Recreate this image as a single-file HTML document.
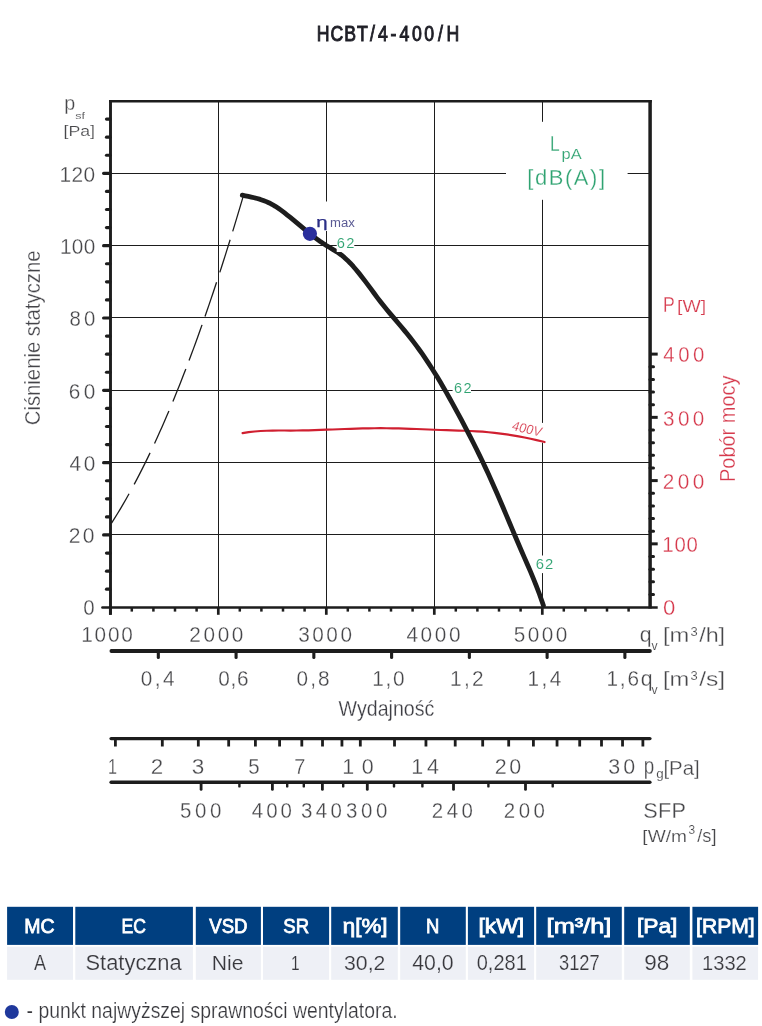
<!DOCTYPE html>
<html lang="pl">
<head>
<meta charset="utf-8">
<title>HCBT/4-400/H</title>
<style>
html,body{margin:0;padding:0;background:#fff;}
body{width:762px;height:1026px;overflow:hidden;font-family:"Liberation Sans", "DejaVu Sans", sans-serif;}
svg{display:block;}
text{white-space:pre;}
</style>
</head>
<body>
<svg width="762" height="1026" viewBox="0 0 762 1026" role="img" aria-label="HCBT/4-400/H">
<rect x="0" y="0" width="762" height="1026" fill="#ffffff"/>
<g id="grid">
<line x1="218.5" y1="100.9" x2="218.5" y2="607.2" stroke="#1d1d1d" stroke-width="1.0"/>
<line x1="326.5" y1="100.9" x2="326.5" y2="607.2" stroke="#1d1d1d" stroke-width="1.0"/>
<line x1="434.5" y1="100.9" x2="434.5" y2="607.2" stroke="#1d1d1d" stroke-width="1.0"/>
<line x1="542.5" y1="100.9" x2="542.5" y2="607.2" stroke="#1d1d1d" stroke-width="1.0"/>
<line x1="110.5" y1="534.5" x2="650.5" y2="534.5" stroke="#1d1d1d" stroke-width="1.0"/>
<line x1="110.5" y1="462.5" x2="650.5" y2="462.5" stroke="#1d1d1d" stroke-width="1.0"/>
<line x1="110.5" y1="390.5" x2="650.5" y2="390.5" stroke="#1d1d1d" stroke-width="1.0"/>
<line x1="110.5" y1="317.5" x2="650.5" y2="317.5" stroke="#1d1d1d" stroke-width="1.0"/>
<line x1="110.5" y1="245.5" x2="650.5" y2="245.5" stroke="#1d1d1d" stroke-width="1.0"/>
<line x1="110.5" y1="173.5" x2="650.5" y2="173.5" stroke="#1d1d1d" stroke-width="1.0"/>
</g>
<g id="system-curve" fill="none" stroke="#1d1d1d" stroke-width="1.3">
<path d="M243.48,195.4 L241.72,201.4 L239.94,207.4 L238.15,213.4 L236.35,219.4 L234.54,225.4 L232.71,231.4"/>
<path d="M230.12,239.8 L228.43,245.23 L226.73,250.67 L225.02,256.1 L223.29,261.53 L221.55,266.97 L219.79,272.4"/>
<path d="M216.56,282.3 L214.68,288 L212.77,293.7 L210.85,299.4 L208.92,305.1 L206.96,310.8 L204.99,316.5"/>
<path d="M202.04,324.9 L199.94,330.83 L197.81,336.77 L195.65,342.7 L193.48,348.63 L191.27,354.57 L189.05,360.5"/>
<path d="M185.85,368.9 L183.75,374.32 L181.63,379.73 L179.49,385.15 L177.32,390.57 L175.12,395.98 L172.9,401.4"/>
<path d="M168.92,410.9 L166.61,416.32 L164.27,421.73 L161.89,427.15 L159.48,432.57 L157.03,437.98 L154.54,443.4"/>
<path d="M150.07,452.9 L147.54,458.15 L144.97,463.4 L142.34,468.65 L139.67,473.9 L136.95,479.15 L134.17,484.4"/>
<path d="M129.04,493.8 L126.27,498.72 L123.44,503.63 L120.54,508.55 L117.56,513.47 L114.51,518.38 L111.37,523.3"/>
</g>
<rect x="506" y="121.8" width="121.6" height="78" fill="#fff"/>
<rect x="316" y="201.5" width="40" height="29.5" fill="#fff"/>
<rect x="452.6" y="381" width="18.4" height="13.5" fill="#fff"/>
<rect x="535" y="555.5" width="19.5" height="17.6" fill="#fff"/>
<rect x="510" y="422.9" width="36" height="19.7" fill="#fff"/>
<path id="power-curve" d="M242.6,433.06 L248.6,432.14 L254.6,431.48 L260.6,431.02 L266.6,430.73 L272.6,430.58 L278.6,430.52 L284.6,430.52 L290.6,430.53 L296.6,430.52 L302.6,430.45 L308.6,430.32 L314.6,430.15 L320.6,429.94 L326.6,429.71 L332.6,429.48 L338.6,429.24 L344.6,429.02 L350.6,428.81 L356.6,428.62 L362.6,428.46 L368.6,428.33 L374.6,428.25 L380.6,428.22 L386.6,428.24 L392.6,428.31 L398.6,428.44 L404.6,428.61 L410.6,428.8 L416.6,429.02 L422.6,429.26 L428.6,429.5 L434.6,429.75 L440.6,429.98 L446.6,430.19 L452.6,430.38 L458.6,430.55 L464.6,430.74 L470.6,430.98 L476.6,431.3 L482.6,431.72 L488.6,432.25 L494.6,432.87 L500.6,433.6 L506.6,434.43 L512.6,435.36 L518.6,436.39 L524.6,437.53 L530.6,438.76 L536.6,440.1 L542.6,441.54 L544.5,442.02" fill="none" stroke="#d01f30" stroke-width="2.2" stroke-linecap="round" stroke-linejoin="round"/>
<path id="pressure-curve" d="M242.3,195.2 L245.3,195.79 L248.3,196.39 L251.3,197.03 L254.3,197.73 L257.3,198.52 L260.3,199.42 L263.3,200.44 L266.3,201.63 L269.3,202.99 L272.3,204.55 L275.3,206.33 L278.3,208.29 L281.3,210.41 L284.3,212.66 L287.3,215.02 L290.3,217.45 L293.3,219.93 L296.3,222.43 L299.3,224.94 L302.3,227.45 L305.3,229.94 L308.3,232.39 L311.3,234.79 L314.3,237.12 L317.3,239.37 L320.3,241.53 L323.3,243.58 L326.3,245.51 L329.3,247.32 L332.3,249.08 L335.3,250.88 L338.3,252.82 L341.3,254.97 L344.3,257.42 L347.3,260.17 L350.3,263.2 L353.3,266.47 L356.3,269.95 L359.3,273.61 L362.3,277.42 L365.3,281.35 L368.3,285.37 L371.3,289.44 L374.3,293.52 L377.3,297.57 L380.3,301.52 L383.3,305.34 L386.3,309.03 L389.3,312.63 L392.3,316.17 L395.3,319.68 L398.3,323.2 L401.3,326.74 L404.3,330.35 L407.3,334.03 L410.3,337.79 L413.3,341.65 L416.3,345.63 L419.3,349.72 L422.3,353.95 L425.3,358.31 L428.3,362.82 L431.3,367.46 L434.3,372.22 L437.3,377.1 L440.3,382.1 L443.3,387.2 L446.3,392.4 L449.3,397.7 L452.3,403.08 L455.3,408.54 L458.3,414.08 L461.3,419.69 L464.3,425.35 L467.3,431.08 L470.3,436.89 L473.3,442.78 L476.3,448.77 L479.3,454.86 L482.3,461.06 L485.3,467.38 L488.3,473.83 L491.3,480.41 L494.3,487.15 L497.3,494.01 L500.3,500.98 L503.3,508.03 L506.3,515.12 L509.3,522.25 L512.3,529.37 L515.3,536.47 L518.3,543.52 L521.3,550.48 L524.3,557.36 L527.3,564.21 L530.3,571.16 L533.3,578.32 L536.3,585.81 L539.3,593.74 L542.3,602.23 L543.4,605.51" fill="none" stroke="#1d1d1d" stroke-width="4.8" stroke-linecap="round" stroke-linejoin="round"/>
<rect x="336.7" y="236" width="17.6" height="16" fill="#fff"/>
<g id="frame">
<line x1="109" y1="101.3" x2="651.8" y2="101.3" stroke="#1d1d1d" stroke-width="2.6"/>
<line x1="110.5" y1="100" x2="110.5" y2="614.8" stroke="#1d1d1d" stroke-width="2.9"/>
<line x1="650.1" y1="100" x2="650.1" y2="608.6" stroke="#1d1d1d" stroke-width="3.5"/>
<line x1="109" y1="607.4" x2="657.7" y2="607.4" stroke="#1d1d1d" stroke-width="2.5"/>
</g>
<g id="ticks" stroke="#1d1d1d">
<line x1="102.4" y1="607.4" x2="110" y2="607.4" stroke="#1d1d1d" stroke-width="2.5" stroke-linecap="round"/>
<line x1="106.5" y1="589.22" x2="110" y2="589.22" stroke="#1d1d1d" stroke-width="3.2" stroke-linecap="round"/>
<line x1="106.5" y1="571.14" x2="110" y2="571.14" stroke="#1d1d1d" stroke-width="3.2" stroke-linecap="round"/>
<line x1="106.5" y1="553.05" x2="110" y2="553.05" stroke="#1d1d1d" stroke-width="3.2" stroke-linecap="round"/>
<line x1="103.6" y1="534.97" x2="110" y2="534.97" stroke="#1d1d1d" stroke-width="3.2" stroke-linecap="round"/>
<line x1="106.5" y1="516.89" x2="110" y2="516.89" stroke="#1d1d1d" stroke-width="3.2" stroke-linecap="round"/>
<line x1="106.5" y1="498.81" x2="110" y2="498.81" stroke="#1d1d1d" stroke-width="3.2" stroke-linecap="round"/>
<line x1="106.5" y1="480.73" x2="110" y2="480.73" stroke="#1d1d1d" stroke-width="3.2" stroke-linecap="round"/>
<line x1="103.6" y1="462.64" x2="110" y2="462.64" stroke="#1d1d1d" stroke-width="3.2" stroke-linecap="round"/>
<line x1="106.5" y1="444.56" x2="110" y2="444.56" stroke="#1d1d1d" stroke-width="3.2" stroke-linecap="round"/>
<line x1="106.5" y1="426.48" x2="110" y2="426.48" stroke="#1d1d1d" stroke-width="3.2" stroke-linecap="round"/>
<line x1="106.5" y1="408.4" x2="110" y2="408.4" stroke="#1d1d1d" stroke-width="3.2" stroke-linecap="round"/>
<line x1="103.6" y1="390.32" x2="110" y2="390.32" stroke="#1d1d1d" stroke-width="3.2" stroke-linecap="round"/>
<line x1="106.5" y1="372.23" x2="110" y2="372.23" stroke="#1d1d1d" stroke-width="3.2" stroke-linecap="round"/>
<line x1="106.5" y1="354.15" x2="110" y2="354.15" stroke="#1d1d1d" stroke-width="3.2" stroke-linecap="round"/>
<line x1="106.5" y1="336.07" x2="110" y2="336.07" stroke="#1d1d1d" stroke-width="3.2" stroke-linecap="round"/>
<line x1="103.6" y1="317.99" x2="110" y2="317.99" stroke="#1d1d1d" stroke-width="3.2" stroke-linecap="round"/>
<line x1="106.5" y1="299.91" x2="110" y2="299.91" stroke="#1d1d1d" stroke-width="3.2" stroke-linecap="round"/>
<line x1="106.5" y1="281.82" x2="110" y2="281.82" stroke="#1d1d1d" stroke-width="3.2" stroke-linecap="round"/>
<line x1="106.5" y1="263.74" x2="110" y2="263.74" stroke="#1d1d1d" stroke-width="3.2" stroke-linecap="round"/>
<line x1="103.6" y1="245.66" x2="110" y2="245.66" stroke="#1d1d1d" stroke-width="3.2" stroke-linecap="round"/>
<line x1="106.5" y1="227.58" x2="110" y2="227.58" stroke="#1d1d1d" stroke-width="3.2" stroke-linecap="round"/>
<line x1="106.5" y1="209.5" x2="110" y2="209.5" stroke="#1d1d1d" stroke-width="3.2" stroke-linecap="round"/>
<line x1="106.5" y1="191.41" x2="110" y2="191.41" stroke="#1d1d1d" stroke-width="3.2" stroke-linecap="round"/>
<line x1="103.6" y1="173.33" x2="110" y2="173.33" stroke="#1d1d1d" stroke-width="3.2" stroke-linecap="round"/>
<line x1="106.5" y1="155.25" x2="110" y2="155.25" stroke="#1d1d1d" stroke-width="3.2" stroke-linecap="round"/>
<line x1="106.5" y1="137.17" x2="110" y2="137.17" stroke="#1d1d1d" stroke-width="3.2" stroke-linecap="round"/>
<line x1="106.5" y1="119.09" x2="110" y2="119.09" stroke="#1d1d1d" stroke-width="3.2" stroke-linecap="round"/>
<line x1="650" y1="594.45" x2="653.5" y2="594.45" stroke="#1d1d1d" stroke-width="3.0" stroke-linecap="round"/>
<line x1="650" y1="581.8" x2="653.5" y2="581.8" stroke="#1d1d1d" stroke-width="3.0" stroke-linecap="round"/>
<line x1="650" y1="569.15" x2="653.5" y2="569.15" stroke="#1d1d1d" stroke-width="3.0" stroke-linecap="round"/>
<line x1="650" y1="556.5" x2="653.5" y2="556.5" stroke="#1d1d1d" stroke-width="3.0" stroke-linecap="round"/>
<line x1="650" y1="543.85" x2="657.7" y2="543.85" stroke="#1d1d1d" stroke-width="3.0"/>
<line x1="650" y1="531.2" x2="653.5" y2="531.2" stroke="#1d1d1d" stroke-width="3.0" stroke-linecap="round"/>
<line x1="650" y1="518.55" x2="653.5" y2="518.55" stroke="#1d1d1d" stroke-width="3.0" stroke-linecap="round"/>
<line x1="650" y1="505.9" x2="653.5" y2="505.9" stroke="#1d1d1d" stroke-width="3.0" stroke-linecap="round"/>
<line x1="650" y1="493.25" x2="653.5" y2="493.25" stroke="#1d1d1d" stroke-width="3.0" stroke-linecap="round"/>
<line x1="650" y1="480.6" x2="657.7" y2="480.6" stroke="#1d1d1d" stroke-width="3.0"/>
<line x1="650" y1="467.95" x2="653.5" y2="467.95" stroke="#1d1d1d" stroke-width="3.0" stroke-linecap="round"/>
<line x1="650" y1="455.3" x2="653.5" y2="455.3" stroke="#1d1d1d" stroke-width="3.0" stroke-linecap="round"/>
<line x1="650" y1="442.65" x2="653.5" y2="442.65" stroke="#1d1d1d" stroke-width="3.0" stroke-linecap="round"/>
<line x1="650" y1="430" x2="653.5" y2="430" stroke="#1d1d1d" stroke-width="3.0" stroke-linecap="round"/>
<line x1="650" y1="417.35" x2="657.7" y2="417.35" stroke="#1d1d1d" stroke-width="3.0"/>
<line x1="650" y1="404.7" x2="653.5" y2="404.7" stroke="#1d1d1d" stroke-width="3.0" stroke-linecap="round"/>
<line x1="650" y1="392.05" x2="653.5" y2="392.05" stroke="#1d1d1d" stroke-width="3.0" stroke-linecap="round"/>
<line x1="650" y1="379.4" x2="653.5" y2="379.4" stroke="#1d1d1d" stroke-width="3.0" stroke-linecap="round"/>
<line x1="650" y1="366.75" x2="653.5" y2="366.75" stroke="#1d1d1d" stroke-width="3.0" stroke-linecap="round"/>
<line x1="650" y1="354.1" x2="657.7" y2="354.1" stroke="#1d1d1d" stroke-width="3.0"/>
<line x1="110.3" y1="607" x2="110.3" y2="614.8" stroke="#1d1d1d" stroke-width="2.7"/>
<line x1="131.8" y1="607" x2="131.8" y2="611.6" stroke="#1d1d1d" stroke-width="2.5"/>
<line x1="153.4" y1="607" x2="153.4" y2="611.6" stroke="#1d1d1d" stroke-width="2.5"/>
<line x1="175" y1="607" x2="175" y2="611.6" stroke="#1d1d1d" stroke-width="2.5"/>
<line x1="196.6" y1="607" x2="196.6" y2="611.6" stroke="#1d1d1d" stroke-width="2.5"/>
<line x1="218.3" y1="607" x2="218.3" y2="614.8" stroke="#1d1d1d" stroke-width="2.7"/>
<line x1="239.8" y1="607" x2="239.8" y2="611.6" stroke="#1d1d1d" stroke-width="2.5"/>
<line x1="261.4" y1="607" x2="261.4" y2="611.6" stroke="#1d1d1d" stroke-width="2.5"/>
<line x1="283" y1="607" x2="283" y2="611.6" stroke="#1d1d1d" stroke-width="2.5"/>
<line x1="304.6" y1="607" x2="304.6" y2="611.6" stroke="#1d1d1d" stroke-width="2.5"/>
<line x1="326.3" y1="607" x2="326.3" y2="614.8" stroke="#1d1d1d" stroke-width="2.7"/>
<line x1="347.8" y1="607" x2="347.8" y2="611.6" stroke="#1d1d1d" stroke-width="2.5"/>
<line x1="369.4" y1="607" x2="369.4" y2="611.6" stroke="#1d1d1d" stroke-width="2.5"/>
<line x1="391" y1="607" x2="391" y2="611.6" stroke="#1d1d1d" stroke-width="2.5"/>
<line x1="412.6" y1="607" x2="412.6" y2="611.6" stroke="#1d1d1d" stroke-width="2.5"/>
<line x1="434.3" y1="607" x2="434.3" y2="614.8" stroke="#1d1d1d" stroke-width="2.7"/>
<line x1="455.8" y1="607" x2="455.8" y2="611.6" stroke="#1d1d1d" stroke-width="2.5"/>
<line x1="477.4" y1="607" x2="477.4" y2="611.6" stroke="#1d1d1d" stroke-width="2.5"/>
<line x1="499" y1="607" x2="499" y2="611.6" stroke="#1d1d1d" stroke-width="2.5"/>
<line x1="520.6" y1="607" x2="520.6" y2="611.6" stroke="#1d1d1d" stroke-width="2.5"/>
<line x1="542.3" y1="607" x2="542.3" y2="614.8" stroke="#1d1d1d" stroke-width="2.7"/>
<line x1="563.8" y1="607" x2="563.8" y2="611.6" stroke="#1d1d1d" stroke-width="2.5"/>
<line x1="585.4" y1="607" x2="585.4" y2="611.6" stroke="#1d1d1d" stroke-width="2.5"/>
<line x1="607" y1="607" x2="607" y2="611.6" stroke="#1d1d1d" stroke-width="2.5"/>
<line x1="628.6" y1="607" x2="628.6" y2="611.6" stroke="#1d1d1d" stroke-width="2.5"/>
</g>
<g id="axis-m3s">
<line x1="111.4" y1="651" x2="649.9" y2="651" stroke="#1d1d1d" stroke-width="3.8" stroke-linecap="round"/>
<line x1="158.32" y1="651" x2="158.32" y2="657.4" stroke="#1d1d1d" stroke-width="3.1" stroke-linecap="round"/>
<line x1="236.08" y1="651" x2="236.08" y2="657.4" stroke="#1d1d1d" stroke-width="3.1" stroke-linecap="round"/>
<line x1="313.84" y1="651" x2="313.84" y2="657.4" stroke="#1d1d1d" stroke-width="3.1" stroke-linecap="round"/>
<line x1="391.6" y1="651" x2="391.6" y2="657.4" stroke="#1d1d1d" stroke-width="3.1" stroke-linecap="round"/>
<line x1="469.36" y1="651" x2="469.36" y2="657.4" stroke="#1d1d1d" stroke-width="3.1" stroke-linecap="round"/>
<line x1="547.12" y1="651" x2="547.12" y2="657.4" stroke="#1d1d1d" stroke-width="3.1" stroke-linecap="round"/>
<line x1="624.88" y1="651" x2="624.88" y2="657.4" stroke="#1d1d1d" stroke-width="3.1" stroke-linecap="round"/>
</g>
<g id="axis-pg">
<line x1="111.1" y1="738.6" x2="649.9" y2="738.6" stroke="#1d1d1d" stroke-width="3.4" stroke-linecap="round"/>
<line x1="115.4" y1="738.6" x2="115.4" y2="746.5" stroke="#1d1d1d" stroke-width="2.8"/>
<line x1="162.32" y1="738.6" x2="162.32" y2="746.5" stroke="#1d1d1d" stroke-width="2.8"/>
<line x1="198.32" y1="738.6" x2="198.32" y2="746.5" stroke="#1d1d1d" stroke-width="2.8"/>
<line x1="228.67" y1="738.6" x2="228.67" y2="746.5" stroke="#1d1d1d" stroke-width="2.8"/>
<line x1="255.41" y1="738.6" x2="255.41" y2="746.5" stroke="#1d1d1d" stroke-width="2.8"/>
<line x1="279.58" y1="738.6" x2="279.58" y2="746.5" stroke="#1d1d1d" stroke-width="2.8"/>
<line x1="301.81" y1="738.6" x2="301.81" y2="746.5" stroke="#1d1d1d" stroke-width="2.8"/>
<line x1="322.51" y1="738.6" x2="322.51" y2="746.5" stroke="#1d1d1d" stroke-width="2.8"/>
<line x1="341.94" y1="738.6" x2="341.94" y2="746.5" stroke="#1d1d1d" stroke-width="2.8"/>
<line x1="360.32" y1="738.6" x2="360.32" y2="746.5" stroke="#1d1d1d" stroke-width="2.8"/>
<line x1="394.51" y1="738.6" x2="394.51" y2="746.5" stroke="#1d1d1d" stroke-width="2.8"/>
<line x1="425.95" y1="738.6" x2="425.95" y2="746.5" stroke="#1d1d1d" stroke-width="2.8"/>
<line x1="455.21" y1="738.6" x2="455.21" y2="746.5" stroke="#1d1d1d" stroke-width="2.8"/>
<line x1="482.69" y1="738.6" x2="482.69" y2="746.5" stroke="#1d1d1d" stroke-width="2.8"/>
<line x1="508.69" y1="738.6" x2="508.69" y2="746.5" stroke="#1d1d1d" stroke-width="2.8"/>
<line x1="533.41" y1="738.6" x2="533.41" y2="746.5" stroke="#1d1d1d" stroke-width="2.8"/>
<line x1="557.04" y1="738.6" x2="557.04" y2="746.5" stroke="#1d1d1d" stroke-width="2.8"/>
<line x1="579.7" y1="738.6" x2="579.7" y2="746.5" stroke="#1d1d1d" stroke-width="2.8"/>
<line x1="601.5" y1="738.6" x2="601.5" y2="746.5" stroke="#1d1d1d" stroke-width="2.8"/>
<line x1="622.54" y1="738.6" x2="622.54" y2="746.5" stroke="#1d1d1d" stroke-width="2.8"/>
<line x1="642.88" y1="738.6" x2="642.88" y2="746.5" stroke="#1d1d1d" stroke-width="2.8"/>
</g>
<g id="axis-sfp">
<line x1="111.1" y1="782.3" x2="649.9" y2="782.3" stroke="#1d1d1d" stroke-width="3.4" stroke-linecap="round"/>
<line x1="201.1" y1="782.3" x2="201.1" y2="789.4" stroke="#1d1d1d" stroke-width="2.8" stroke-linecap="round"/>
<line x1="239.4" y1="782.3" x2="239.4" y2="786.4" stroke="#1d1d1d" stroke-width="2.4" stroke-linecap="round"/>
<line x1="272.4" y1="782.3" x2="272.4" y2="789.4" stroke="#1d1d1d" stroke-width="2.8" stroke-linecap="round"/>
<line x1="287.2" y1="782.3" x2="287.2" y2="786.4" stroke="#1d1d1d" stroke-width="2.4" stroke-linecap="round"/>
<line x1="303.8" y1="782.3" x2="303.8" y2="786.4" stroke="#1d1d1d" stroke-width="2.4" stroke-linecap="round"/>
<line x1="322.4" y1="782.3" x2="322.4" y2="789.4" stroke="#1d1d1d" stroke-width="2.8" stroke-linecap="round"/>
<line x1="343.2" y1="782.3" x2="343.2" y2="786.4" stroke="#1d1d1d" stroke-width="2.4" stroke-linecap="round"/>
<line x1="367.3" y1="782.3" x2="367.3" y2="789.4" stroke="#1d1d1d" stroke-width="2.8" stroke-linecap="round"/>
<line x1="394" y1="782.3" x2="394" y2="786.4" stroke="#1d1d1d" stroke-width="2.4" stroke-linecap="round"/>
<line x1="422.4" y1="782.3" x2="422.4" y2="786.4" stroke="#1d1d1d" stroke-width="2.4" stroke-linecap="round"/>
<line x1="453.5" y1="782.3" x2="453.5" y2="789.4" stroke="#1d1d1d" stroke-width="2.8" stroke-linecap="round"/>
<line x1="488.4" y1="782.3" x2="488.4" y2="786.4" stroke="#1d1d1d" stroke-width="2.4" stroke-linecap="round"/>
<line x1="525.5" y1="782.3" x2="525.5" y2="789.4" stroke="#1d1d1d" stroke-width="2.8" stroke-linecap="round"/>
<line x1="552.7" y1="782.3" x2="552.7" y2="786.4" stroke="#1d1d1d" stroke-width="2.4" stroke-linecap="round"/>
</g>
<circle cx="309.9" cy="233.8" r="7.1" fill="#2a2f9c"/>
<g id="labels" font-family='"Liberation Sans", "DejaVu Sans", sans-serif'>
<text transform="translate(317.9,40.9) scale(0.8316,1)" x="-1.37 15.1 31.56 46.97 62.65 72.38 87.25 98 113.26 128 144.48 154.61" y="0" font-size="21.26" fill="#1e1e26" stroke="#1e1e26" stroke-width="0.95">HCBT/4-400/H</text>
<text transform="translate(65.46,110.27) scale(0.9471,1)" x="-1.34" y="0" font-size="20.83" fill="#47474a" stroke="#ffffff" stroke-width="0.27">p</text>
<text transform="translate(75.66,118.62) scale(1.2794,1)" x="-0.27 4.61" y="0" font-size="9.77" fill="#47474a" stroke="#ffffff" stroke-width="0.09">sf</text>
<text transform="translate(64.82,135.94) scale(1.1462,1)" x="-1.1 3.19 13.49 22.08" y="0" font-size="15.45" fill="#47474a" stroke="#ffffff" stroke-width="0.17">[Pa]</text>
<text transform="translate(61.06,182.07) scale(0.9600,1)" x="-1.66 10.87 23.4" y="0" font-size="21.78" fill="#47474a" stroke="#ffffff" stroke-width="0.28">120</text>
<text transform="translate(61.56,253.97) scale(0.9600,1)" x="-1.65 10.73 23.11" y="0" font-size="21.64" fill="#47474a" stroke="#ffffff" stroke-width="0.28">100</text>
<text transform="translate(70.36,325.77) scale(0.9600,1)" x="-0.92 14.17" y="0" font-size="21.21" fill="#47474a" stroke="#ffffff" stroke-width="0.28">80</text>
<text transform="translate(69.86,398.97) scale(0.9600,1)" x="-1.1 14.47" y="0" font-size="21.64" fill="#47474a" stroke="#ffffff" stroke-width="0.28">60</text>
<text transform="translate(69.86,471.07) scale(0.9600,1)" x="-0.5 14.47" y="0" font-size="21.64" fill="#47474a" stroke="#ffffff" stroke-width="0.28">40</text>
<text transform="translate(69.86,543.17) scale(0.9600,1)" x="-1.1 13.33" y="0" font-size="21.93" fill="#47474a" stroke="#ffffff" stroke-width="0.28">20</text>
<text transform="translate(83.96,615.07) scale(0.9454,1)" x="-0.85" y="0" font-size="21.64" fill="#47474a" stroke="#ffffff" stroke-width="0.28">0</text>
<text transform="translate(40.2,424.2) rotate(-90) scale(0.8991,1)" x="-1.15 15.14 20.16 31.43 43.98 48.99 61.54 74.08 79.09 91.64 97.9 109.18 115.45 127.99 134.26 145.54 156.82 168.1 180.64" y="0" font-size="22.56" fill="#444449" stroke="#ffffff" stroke-width="0.3">Ciśnienie statyczne</text>
<text transform="translate(664.36,311.67) scale(0.8299,1)" x="-1.74" y="0" font-size="21.24" fill="#d63a4d" stroke="#ffffff" stroke-width="0.28">P</text>
<text transform="translate(678.4,311.65) scale(1.1947,1)" x="-1.16 3.38 18.8" y="0" font-size="16.34" fill="#d63a4d" stroke="#ffffff" stroke-width="0.19">[W]</text>
<text transform="translate(663.76,361.97) scale(0.9600,1)" x="-0.49 14.99 30.47" y="0" font-size="21.21" fill="#d63a4d" stroke="#ffffff" stroke-width="0.28">400</text>
<text transform="translate(663.76,425.87) scale(0.9600,1)" x="-0.82 14.75 30.32" y="0" font-size="21.50" fill="#d63a4d" stroke="#ffffff" stroke-width="0.28">300</text>
<text transform="translate(663.76,488.97) scale(0.9600,1)" x="-1.09 14.58 30.25" y="0" font-size="21.64" fill="#d63a4d" stroke="#ffffff" stroke-width="0.28">200</text>
<text transform="translate(663.76,551.67) scale(0.9600,1)" x="-1.62 11.09 23.8" y="0" font-size="21.21" fill="#d63a4d" stroke="#ffffff" stroke-width="0.28">100</text>
<text transform="translate(663.76,614.67) scale(1.0435,1)" x="-0.83" y="0" font-size="21.21" fill="#d63a4d" stroke="#ffffff" stroke-width="0.28">0</text>
<text transform="translate(735.1,480.4) rotate(-90) scale(0.9136,1)" x="-1.79 12.79 24.95 37.1 49.26 56.54 62.62 80.83 92.98 103.91" y="0" font-size="21.86" fill="#d63a4d" stroke="#ffffff" stroke-width="0.28">Pobór mocy</text>
<text transform="translate(551.46,151.37) scale(0.7984,1)" x="-1.79" y="0" font-size="21.82" fill="#2fa371" stroke="#ffffff" stroke-width="0.28">L</text>
<text transform="translate(562.62,159.04) scale(1.1202,1)" x="-0.95 7.23" y="0" font-size="14.71" fill="#2fa371" stroke="#ffffff" stroke-width="0.16">pA</text>
<text transform="translate(528.86,185.17) scale(1.0000,1)" x="-1.57 6.1 19.87 36.08 44.96 61.17 70.04" y="0" font-size="21.96" fill="#2fa371" stroke="#ffffff" stroke-width="0.28">[dB(A)]</text>
<text transform="translate(317.32,226.66) scale(1.4349,1)" x="-0.73" y="0" font-size="14.19" fill="#2b2e86" stroke="#2b2e86" stroke-width="0.25">η</text>
<text transform="translate(330.88,226.71) scale(0.9982,1)" x="-0.87 10.07 17.37" y="0" font-size="13.13" fill="#5a5a94">max</text>
<text transform="translate(337.44,247.93) scale(0.9600,1)" x="-0.78 9.15" y="0" font-size="15.31" fill="#2fa371" stroke="#ffffff" stroke-width="0.12">62</text>
<text transform="translate(454.64,392.93) scale(0.9600,1)" x="-0.77 9.22" y="0" font-size="15.17" fill="#2fa371" stroke="#ffffff" stroke-width="0.12">62</text>
<text transform="translate(536.54,568.93) scale(0.9600,1)" x="-0.78 8.77" y="0" font-size="15.45" fill="#2fa371" stroke="#ffffff" stroke-width="0.12">62</text>
<text transform="translate(511.4,429.9) rotate(13) skewX(-6) scale(0.9499,1)" x="-0.31 7.18 14.68 22.17" y="0" font-size="13.47" fill="#d63a4d" stroke="#ffffff" stroke-width="0.14">400V</text>
<text transform="translate(82.86,641.77) scale(0.9600,1)" x="-1.65 12.25 26.14 40.04" y="0" font-size="21.64" fill="#47474a" stroke="#ffffff" stroke-width="0.28">1000</text>
<text transform="translate(190.36,641.77) scale(0.9600,1)" x="-1.09 13.66 28.41 43.16" y="0" font-size="21.64" fill="#47474a" stroke="#ffffff" stroke-width="0.28">2000</text>
<text transform="translate(298.96,641.77) scale(0.9600,1)" x="-0.82 13.84 28.5 43.16" y="0" font-size="21.64" fill="#47474a" stroke="#ffffff" stroke-width="0.28">3000</text>
<text transform="translate(406.86,641.77) scale(0.9600,1)" x="-0.5 14.3 29.1 43.89" y="0" font-size="21.64" fill="#47474a" stroke="#ffffff" stroke-width="0.28">4000</text>
<text transform="translate(514.46,641.77) scale(0.9600,1)" x="-0.87 13.78 28.42 43.06" y="0" font-size="21.64" fill="#47474a" stroke="#ffffff" stroke-width="0.28">5000</text>
<text transform="translate(640.76,641.77) scale(0.9601,1)" x="-0.93" y="0" font-size="22.16" fill="#47474a" stroke="#ffffff" stroke-width="0.28">q</text>
<text transform="translate(651.63,649.93) scale(0.9645,1)" x="-0.04" y="0" font-size="12.68" fill="#47474a" stroke="#ffffff" stroke-width="0.13">v</text>
<text transform="translate(664.57,641.77) scale(1.1482,1)" x="-1.47 4.26" y="0" font-size="20.64" fill="#47474a" stroke="#ffffff" stroke-width="0.27">[m</text>
<text transform="translate(690.93,636.03) scale(1.0262,1)" x="-0.48" y="0" font-size="12.60" fill="#47474a" stroke="#ffffff" stroke-width="0.13">3</text>
<text transform="translate(699.16,641.77) scale(1.1099,1)" x="0 5.84 17.53" y="0" font-size="21.01" fill="#47474a" stroke="#ffffff" stroke-width="0.27">/h]</text>
<text transform="translate(141.46,685.97) scale(0.9600,1)" x="-0.85 13.86 22.54" y="0" font-size="21.64" fill="#47474a" stroke="#ffffff" stroke-width="0.28">0,4</text>
<text transform="translate(219.16,685.97) scale(0.9600,1)" x="-0.85 11.93 18.69" y="0" font-size="21.64" fill="#47474a" stroke="#ffffff" stroke-width="0.28">0,6</text>
<text transform="translate(297.26,685.97) scale(0.9600,1)" x="-0.85 13.44 21.7" y="0" font-size="21.64" fill="#47474a" stroke="#ffffff" stroke-width="0.28">0,8</text>
<text transform="translate(373.76,685.97) scale(0.9600,1)" x="-1.65 12.26 20.14" y="0" font-size="21.64" fill="#47474a" stroke="#ffffff" stroke-width="0.28">1,0</text>
<text transform="translate(451.66,685.97) scale(0.9600,1)" x="-1.65 12.85 21.32" y="0" font-size="21.64" fill="#47474a" stroke="#ffffff" stroke-width="0.28">1,2</text>
<text transform="translate(529.16,685.97) scale(0.9600,1)" x="-1.65 12.88 21.39" y="0" font-size="21.64" fill="#47474a" stroke="#ffffff" stroke-width="0.28">1,4</text>
<text transform="translate(608.16,685.97) scale(0.9600,1)" x="-1.65 12.21 20.04" y="0" font-size="21.64" fill="#47474a" stroke="#ffffff" stroke-width="0.28">1,6</text>
<text transform="translate(641.56,685.97) scale(0.9601,1)" x="-0.93" y="0" font-size="22.16" fill="#47474a" stroke="#ffffff" stroke-width="0.28">q</text>
<text transform="translate(651.63,694.13) scale(0.9645,1)" x="-0.04" y="0" font-size="12.68" fill="#47474a" stroke="#ffffff" stroke-width="0.13">v</text>
<text transform="translate(664.57,685.97) scale(1.1482,1)" x="-1.47 4.26" y="0" font-size="20.64" fill="#47474a" stroke="#ffffff" stroke-width="0.27">[m</text>
<text transform="translate(690.93,680.23) scale(1.0262,1)" x="-0.48" y="0" font-size="12.60" fill="#47474a" stroke="#ffffff" stroke-width="0.13">3</text>
<text transform="translate(699.16,685.97) scale(1.1732,1)" x="0 5.84 16.35" y="0" font-size="21.01" fill="#47474a" stroke="#ffffff" stroke-width="0.27">/s]</text>
<text transform="translate(338.57,716.06) scale(0.9048,1)" x="-0.1 20.33 31.15 43.18 55.22 60.03 72.06 84.09 94.91" y="0" font-size="21.64" fill="#3e3e44" stroke="#ffffff" stroke-width="0.25">Wydajność</text>
<text transform="translate(109.26,774.27) scale(0.7241,1)" x="-1.7" y="0" font-size="22.36" fill="#47474a" stroke="#ffffff" stroke-width="0.28">1</text>
<text transform="translate(151.86,774.27) scale(0.9995,1)" x="-1.12" y="0" font-size="22.36" fill="#47474a" stroke="#ffffff" stroke-width="0.28">2</text>
<text transform="translate(192.66,774.27) scale(1.0076,1)" x="-0.85" y="0" font-size="22.36" fill="#47474a" stroke="#ffffff" stroke-width="0.28">3</text>
<text transform="translate(249.16,774.27) scale(0.9132,1)" x="-0.9" y="0" font-size="22.36" fill="#47474a" stroke="#ffffff" stroke-width="0.28">5</text>
<text transform="translate(295.36,774.27) scale(0.8934,1)" x="-1.15" y="0" font-size="22.36" fill="#47474a" stroke="#ffffff" stroke-width="0.28">7</text>
<text transform="translate(343.76,774.27) scale(0.9600,1)" x="-1.7 18.84" y="0" font-size="22.36" fill="#47474a" stroke="#ffffff" stroke-width="0.28">10</text>
<text transform="translate(412.76,774.27) scale(0.9600,1)" x="-1.7 14.87" y="0" font-size="22.36" fill="#47474a" stroke="#ffffff" stroke-width="0.28">14</text>
<text transform="translate(495.86,774.27) scale(0.9600,1)" x="-1.12 14.04" y="0" font-size="22.36" fill="#47474a" stroke="#ffffff" stroke-width="0.28">20</text>
<text transform="translate(608.96,774.27) scale(0.9600,1)" x="-0.85 14.98" y="0" font-size="22.36" fill="#47474a" stroke="#ffffff" stroke-width="0.28">30</text>
<text transform="translate(644.86,774.27) scale(0.7964,1)" x="-1.53" y="0" font-size="23.68" fill="#47474a" stroke="#ffffff" stroke-width="0.28">p</text>
<text transform="translate(656.74,777.63) scale(1.1068,1)" x="-0.51" y="0" font-size="12.09" fill="#47474a" stroke="#ffffff" stroke-width="0.12">g</text>
<text transform="translate(664.88,774.66) scale(1.0320,1)" x="-1.41 4.08 17.25 28.24" y="0" font-size="19.75" fill="#47474a" stroke="#ffffff" stroke-width="0.25">[Pa]</text>
<text transform="translate(180.86,817.97) scale(0.9600,1)" x="-0.85 14.77 30.4" y="0" font-size="21.35" fill="#47474a" stroke="#ffffff" stroke-width="0.28">500</text>
<text transform="translate(252.26,817.97) scale(0.9600,1)" x="-0.49 14.48 29.46" y="0" font-size="21.35" fill="#47474a" stroke="#ffffff" stroke-width="0.28">400</text>
<text transform="translate(301.76,817.97) scale(0.9600,1)" x="-0.81 14.53 29.87" y="0" font-size="21.35" fill="#47474a" stroke="#ffffff" stroke-width="0.28">340</text>
<text transform="translate(346.66,817.97) scale(0.9600,1)" x="-0.81 14.9 30.6" y="0" font-size="21.35" fill="#47474a" stroke="#ffffff" stroke-width="0.28">300</text>
<text transform="translate(432.86,817.97) scale(0.9600,1)" x="-1.07 14.35 29.77" y="0" font-size="21.35" fill="#47474a" stroke="#ffffff" stroke-width="0.28">240</text>
<text transform="translate(504.86,817.97) scale(0.9600,1)" x="-1.07 14.35 29.77" y="0" font-size="21.35" fill="#47474a" stroke="#ffffff" stroke-width="0.28">200</text>
<text transform="translate(644.16,817.97) scale(1.0000,1)" x="-0.98 13.75 27.27" y="0" font-size="21.67" fill="#47474a" stroke="#ffffff" stroke-width="0.28">SFP</text>
<text transform="translate(643.69,841.55) scale(1.1010,1)" x="-1.24 3.59 19.99 24.82" y="0" font-size="17.38" fill="#47474a" stroke="#ffffff" stroke-width="0.21">[W/m</text>
<text transform="translate(689.03,834.03) scale(0.9114,1)" x="-0.5" y="0" font-size="13.03" fill="#47474a" stroke="#ffffff" stroke-width="0.13">3</text>
<text transform="translate(697.29,841.55) scale(1.0097,1)" x="0 5.01 14.02" y="0" font-size="18.03" fill="#47474a" stroke="#ffffff" stroke-width="0.22">/s]</text>
</g>
<g id="table" font-family='"Liberation Sans", "DejaVu Sans", sans-serif'>
<rect x="7.1" y="906.8" width="65.9" height="38.1" fill="#003f80"/>
<rect x="7.1" y="946.7" width="65.9" height="33.1" fill="#eef0f6"/>
<rect x="75.3" y="906.8" width="117.6" height="38.1" fill="#003f80"/>
<rect x="75.3" y="946.7" width="117.6" height="33.1" fill="#eef0f6"/>
<rect x="195.8" y="906.8" width="65.1" height="38.1" fill="#003f80"/>
<rect x="195.8" y="946.7" width="65.1" height="33.1" fill="#eef0f6"/>
<rect x="263" y="906.8" width="66.1" height="38.1" fill="#003f80"/>
<rect x="263" y="946.7" width="66.1" height="33.1" fill="#eef0f6"/>
<rect x="331.2" y="906.8" width="66.6" height="38.1" fill="#003f80"/>
<rect x="331.2" y="946.7" width="66.6" height="33.1" fill="#eef0f6"/>
<rect x="400.2" y="906.8" width="65.6" height="38.1" fill="#003f80"/>
<rect x="400.2" y="946.7" width="65.6" height="33.1" fill="#eef0f6"/>
<rect x="467.9" y="906.8" width="66.2" height="38.1" fill="#003f80"/>
<rect x="467.9" y="946.7" width="66.2" height="33.1" fill="#eef0f6"/>
<rect x="536.2" y="906.8" width="85.6" height="38.1" fill="#003f80"/>
<rect x="536.2" y="946.7" width="85.6" height="33.1" fill="#eef0f6"/>
<rect x="624.2" y="906.8" width="65.6" height="38.1" fill="#003f80"/>
<rect x="624.2" y="946.7" width="65.6" height="33.1" fill="#eef0f6"/>
<rect x="692.4" y="906.8" width="65.7" height="38.1" fill="#003f80"/>
<rect x="692.4" y="946.7" width="65.7" height="33.1" fill="#eef0f6"/>
<text transform="translate(25.9,932.98) scale(0.9602,1)" x="-1.67 15.26" y="0" font-size="20.32" fill="#ffffff" stroke="#ffffff" stroke-width="0.8">MC</text>
<text transform="translate(34,970.35) scale(0.8557,1)" x="-0.04" y="0" font-size="21.15" fill="#38383d" stroke="#eef0f6" stroke-width="0.2">A</text>
<text transform="translate(123,932.98) scale(0.8648,1)" x="-1.67 11.89" y="0" font-size="20.32" fill="#ffffff" stroke="#ffffff" stroke-width="0.8">EC</text>
<text transform="translate(86.5,970.35) scale(1.0358,1)" x="-0.96 13.15 19.02 30.78 36.66 47.23 57.81 68.38 80.14" y="0" font-size="21.15" fill="#38383d" stroke="#eef0f6" stroke-width="0.2">Statyczna</text>
<text transform="translate(209.3,932.98) scale(0.9160,1)" x="-0.09 13.46 27.02" y="0" font-size="20.32" fill="#ffffff" stroke="#ffffff" stroke-width="0.8">VSD</text>
<text transform="translate(213.5,970.35) scale(1.0014,1)" x="-1.73 13.54 18.24" y="0" font-size="21.15" fill="#38383d" stroke="#eef0f6" stroke-width="0.2">Nie</text>
<text transform="translate(284.1,932.98) scale(0.9142,1)" x="-0.92 12.63" y="0" font-size="20.32" fill="#ffffff" stroke="#ffffff" stroke-width="0.8">SR</text>
<text transform="translate(292.3,970.35) scale(0.7348,1)" x="-1.61" y="0" font-size="21.15" fill="#38383d" stroke="#eef0f6" stroke-width="0.2">1</text>
<text transform="translate(343.9,932.98) scale(1.1006,1)" x="-1.05 10.25 15.89 33.96" y="0" font-size="20.32" fill="#ffffff" stroke="#ffffff" stroke-width="0.8">η[%]</text>
<text transform="translate(344.8,970.35) scale(1.0053,1)" x="-0.81 10.96 22.72 28.59" y="0" font-size="21.15" fill="#38383d" stroke="#eef0f6" stroke-width="0.2">30,2</text>
<text transform="translate(427.6,932.98) scale(0.9074,1)" x="-1.67" y="0" font-size="20.32" fill="#ffffff" stroke="#ffffff" stroke-width="0.8">N</text>
<text transform="translate(412.7,970.35) scale(1.0063,1)" x="-0.49 11.28 23.04 28.91" y="0" font-size="21.15" fill="#38383d" stroke="#eef0f6" stroke-width="0.2">40,0</text>
<text transform="translate(480.1,932.98) scale(1.1263,1)" x="-1.45 4.2 14.36 33.54" y="0" font-size="20.32" fill="#ffffff" stroke="#ffffff" stroke-width="0.8">[kW]</text>
<text transform="translate(477.5,970.35) scale(0.9459,1)" x="-0.83 10.94 16.81 28.57 40.34" y="0" font-size="21.15" fill="#38383d" stroke="#eef0f6" stroke-width="0.2">0,281</text>
<text transform="translate(548.4,932.98) scale(1.2481,1)" x="-1.45 4.2 21.12 27.89 33.54 44.84" y="0" font-size="20.32" fill="#ffffff" stroke="#ffffff" stroke-width="0.8">[m³/h]</text>
<text transform="translate(559.7,970.35) scale(0.8655,1)" x="-0.81 10.96 22.72 34.48" y="0" font-size="21.15" fill="#38383d" stroke="#eef0f6" stroke-width="0.2">3127</text>
<text transform="translate(638.5,932.98) scale(1.1219,1)" x="-1.45 4.2 17.75 29.05" y="0" font-size="20.32" fill="#ffffff" stroke="#ffffff" stroke-width="0.8">[Pa]</text>
<text transform="translate(645.4,970.35) scale(1.0642,1)" x="-0.99 10.77" y="0" font-size="21.15" fill="#38383d" stroke="#eef0f6" stroke-width="0.2">98</text>
<text transform="translate(697.6,932.98) scale(1.0383,1)" x="-1.45 4.2 18.87 32.42 49.35" y="0" font-size="20.32" fill="#ffffff" stroke="#ffffff" stroke-width="0.8">[RPM]</text>
<text transform="translate(703.6,970.35) scale(0.9510,1)" x="-1.61 10.15 21.91 33.67" y="0" font-size="21.15" fill="#38383d" stroke="#eef0f6" stroke-width="0.2">1332</text>
</g>
<g id="footnote" font-family='"Liberation Sans", "DejaVu Sans", sans-serif'>
<circle cx="11.8" cy="1012" r="7" fill="#1f389c"/>
<text transform="translate(27.48,1018.36) scale(0.9082,1)" x="-0.95 6.17 12.1 23.98 35.87 47.75 58.43 64.37 70.3 82.18 94.07 98.81 114.24 124.92 135.61 146.29 156.97 168.85 173.6 179.54 190.22 202.1 209.22 221.1 236.53 248.41 260.29 270.97 281.66 286.4 292.34 307.77 319.65 331.53 337.47 348.15 352.9 364.78 370.71 382.6 389.71 401.59" y="0" font-size="21.36" fill="#38383d" stroke="#ffffff" stroke-width="0.25">- punkt najwyższej sprawności wentylatora.</text>
</g>
</svg>
</body>
</html>
